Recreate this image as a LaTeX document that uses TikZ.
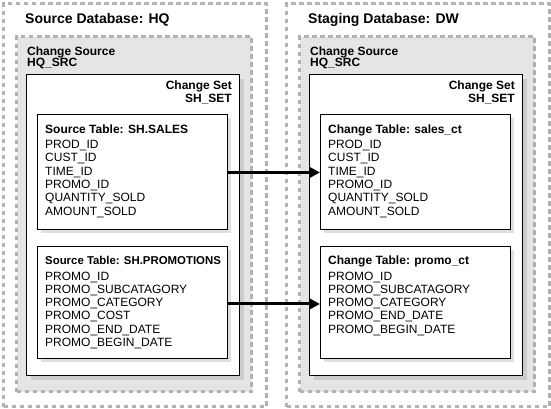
\documentclass[tikz,border=0pt]{standalone}
\usepackage{fontspec}
\setmainfont{Liberation Sans}
\usetikzlibrary{arrows.meta,shadows}
\begin{document}
\begin{tikzpicture}[x=1pt,y=-1pt,
	db/.style={draw=gray!60,line width=3pt,dash pattern=on 4.5pt off 3.5pt,anchor=north west,inner sep=0pt},
	src/.style={draw=gray!60,fill=gray!20,line width=3pt,dash pattern=on 4.5pt off 3.5pt,anchor=north west,inner sep=0pt},
	cset/.style={draw,fill=white,line width=1.3pt,anchor=north west,inner sep=0pt,drop shadow={shadow xshift=4pt,shadow yshift=-4pt,fill=gray!40,opacity=1}},
	tbl/.style={draw,fill=white,line width=1.3pt,anchor=north west,inner sep=0pt,minimum width=190pt,drop shadow={shadow xshift=3pt,shadow yshift=-3pt,fill=gray!25,opacity=1}},
	head/.style={anchor=base west,inner sep=0pt,font=\fontsize{14}{16}\selectfont\bfseries},
	lbl/.style={inner sep=0pt,font=\fontsize{12}{14}\selectfont\bfseries},
	fld/.style={anchor=base west,inner sep=0pt,font=\fontsize{12}{14}\selectfont},
	conn/.style={line width=3pt,-{Triangle[length=11pt,width=11pt]}}]
				\useasboundingbox (0,0) rectangle (551,408);
				\node[db,minimum width=263pt,minimum height=403pt] (hq) at (2,2) {};
				\node[db,minimum width=263pt,minimum height=403pt] (dw) at (285,2) {};
				\node[src,minimum width=235pt,minimum height=355pt] (hqsrc) at (15,35) {};
				\node[src,minimum width=235pt,minimum height=355pt] (dwsrc) at (298,35) {};
				\node[cset,minimum width=213pt,minimum height=301pt] (hqset) at (26,74) {};
				\node[cset,minimum width=213pt,minimum height=301pt] (dwset) at (309,74) {};
				\node[tbl,minimum height=115pt] (sales) at (37,114) {};
				\node[tbl,minimum height=112pt] (promo) at (37,246) {};
				\node[tbl,minimum height=115pt] (salesct) at (320,114) {};
				\node[tbl,minimum height=112pt] (promoct) at (320,246) {};
				\node[head] (hqname) at (25,23) {Source Database: HQ};
				\node[head] (dwname) at (308,23) {Staging Database: DW};
				\node[lbl,anchor=base west] (hqsrc1) at (27,55) {Change Source};
				\node[lbl,anchor=base west] (hqsrc2) at (27,66.5) {HQ\_SRC};
				\node[lbl,anchor=base west] (dwsrc1) at (310,55) {Change Source};
				\node[lbl,anchor=base west] (dwsrc2) at (310,66.5) {HQ\_SRC};
				\node[lbl,anchor=base east] (hqset1) at (232,89) {Change Set};
				\node[lbl,anchor=base east] (hqset2) at (232,102.5) {SH\_SET};
				\node[lbl,anchor=base east] (dwset1) at (515,89) {Change Set};
				\node[lbl,anchor=base east] (dwset2) at (515,102.5) {SH\_SET};
				\node[lbl,anchor=base west] (salesname) at (45,133) {Source Table: SH.SALES};
				\node[lbl,anchor=base west,font=\fontsize{11.4}{14}\selectfont\bfseries] (promoname) at (45,264.5) {Source Table: SH.PROMOTIONS};
				\node[lbl,anchor=base west] (salesctname) at (328,133) {Change Table: sales\_ct};
				\node[lbl,anchor=base west] (promoctname) at (328,264.5) {Change Table: promo\_ct};
				\foreach \f [count=\i] in {PROD\_ID,CUST\_ID,TIME\_ID,PROMO\_ID,QUANTITY\_SOLD,AMOUNT\_SOLD}
				{
					\node[fld] (sf\i) at (45,135.2+13.3*\i) {\f};
					\node[fld] (cf\i) at (328,135.2+13.3*\i) {\f};
				}
				\foreach \f [count=\i] in {PROMO\_ID,PROMO\_SUBCATAGORY,PROMO\_CATEGORY,PROMO\_COST,PROMO\_END\_DATE,PROMO\_BEGIN\_DATE}
					\node[fld] (pf\i) at (45,266.7+13.3*\i) {\f};
				\foreach \f [count=\i] in {PROMO\_ID,PROMO\_SUBCATAGORY,PROMO\_CATEGORY,PROMO\_END\_DATE,PROMO\_BEGIN\_DATE}
					\node[fld] (qf\i) at (328,266.7+13.3*\i) {\f};
				\draw[conn] (sales.east |- sf3.mid) -- (salesct.west |- cf3.mid);
				\draw[conn] (promo.east |- pf3.mid) -- (promoct.west |- qf3.mid);
\end{tikzpicture}
\end{document}
